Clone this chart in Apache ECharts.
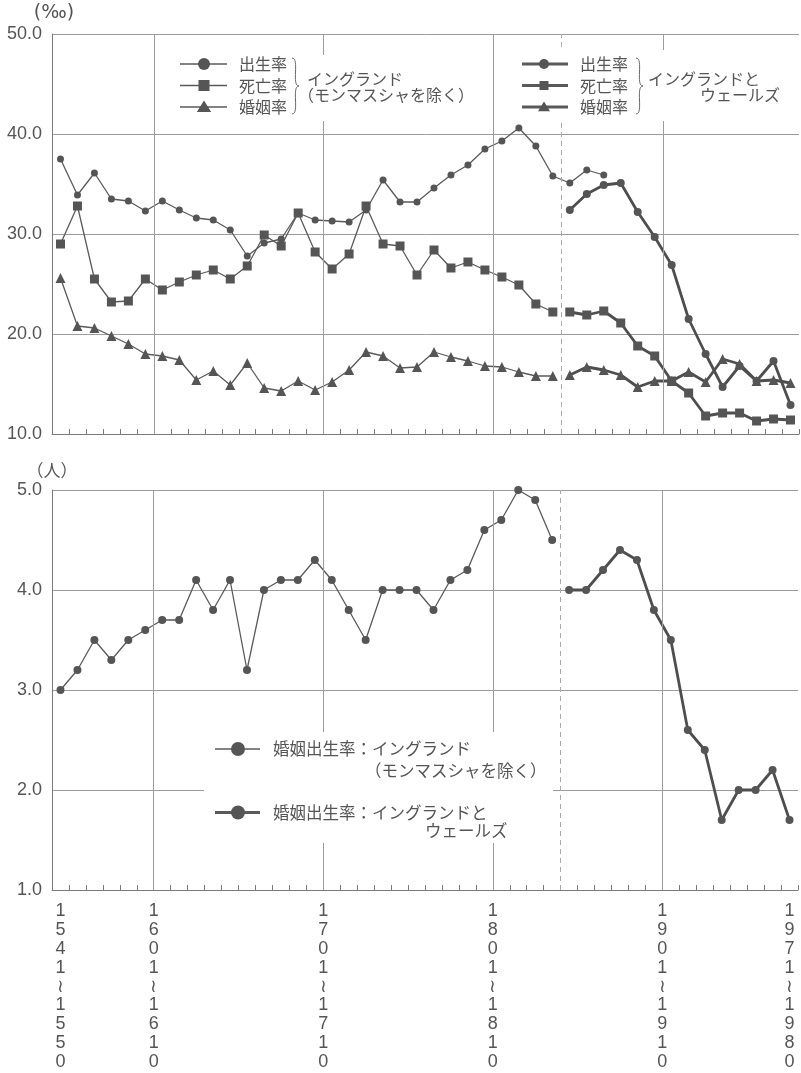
<!DOCTYPE html>
<html><head><meta charset="utf-8">
<script src="https://cdn.jsdelivr.net/npm/echarts@6/dist/echarts.min.js"></script>
<style>html,body{margin:0;padding:0;background:#fff}#c{width:801px;height:1073px}</style>
</head><body><div id="c"></div>
<script>
// ---- data ----
const decades = [1541,1551,1561,1571,1581,1591,1601,1611,1621,1631,1641,1651,1661,1671,1681,1691,1701,1711,1721,1731,1741,1751,1761,1771,1781,1791,1801,1811,1821,1831,1841,1851,1861,1871,1881,1891,1901,1911,1921,1931,1941,1951,1961,1971];
const tickLabels = ['1541~1550','1601~1610','1701~1710','1801~1810','1901~1910','1971~1980'];
const majorLines = [1601,1701,1801,1901];
const dashedLine = 1841;

const engStart = 1541;
const ewStart = 1841;

const birthEng = [37.5,33.9,36.1,33.5,33.3,32.3,33.3,32.4,31.6,31.4,30.4,27.8,29.1,29.5,32.1,31.4,31.3,31.2,32.4,35.4,33.2,33.2,34.6,35.9,36.9,38.5,39.3,40.6,38.8,35.8,35.1,36.4,35.9];
const deathEng = [29.0,32.8,25.5,23.2,23.3,25.5,24.4,25.2,25.9,26.4,25.5,26.8,29.9,28.8,32.1,28.2,26.5,28.0,32.8,29.0,28.8,25.9,28.4,26.6,27.2,26.4,25.7,24.9,23.0,22.2];
const marriageEng = [25.6,20.8,20.6,19.8,19.0,18.0,17.8,17.4,15.4,16.3,14.9,17.1,14.6,14.3,15.3,14.4,15.2,16.4,18.2,17.8,16.6,16.7,18.2,17.7,17.3,16.8,16.7,16.2,15.8,15.8];

const birthEW = [32.4,34.0,34.9,35.1,32.2,29.7,26.9,21.5,18.0,14.7,16.8,15.3,17.3,12.9];
const deathEW = [22.2,21.9,22.3,21.1,18.8,17.8,15.3,14.1,11.8,12.1,12.1,11.3,11.5,11.4];
const marriageEW = [15.9,16.7,16.4,15.9,14.7,15.3,15.3,16.2,15.2,17.5,17.0,15.3,15.4,15.1];

const fertEng = [3.0,3.2,3.5,3.3,3.5,3.6,3.7,3.7,4.1,3.8,4.1,3.2,4.0,4.1,4.1,4.3,4.1,3.8,3.5,4.0,4.0,4.0,3.8,4.1,4.2,4.6,4.7,5.0,4.9,4.5];
const fertEW = [4.0,4.0,4.2,4.4,4.3,3.8,3.5,2.6,2.4,1.7,2.0,2.0,2.2,1.7];

const topTicks = [10,20,30,40,50];
const bottomTicks = [1,2,3,4,5];

// ---- build ----
function pts(start, arr){
  const i0 = decades.indexOf(start);
  return arr.map((v,i)=>[i0 + i + 0.5, v]);
}
const labelPos = {};
tickLabels.forEach((t,k)=>{
  const start = parseInt(t.split('~')[0],10);
  const idx = decades.indexOf(start);
  const pos = (k===0 || k===tickLabels.length-1) ? idx + 0.5 : idx;
  labelPos[pos.toFixed(1)] = t;
});
function vertLabel(v){
  const t = labelPos[v.toFixed(1)];
  if(!t) return '';
  return t.replace('~','≀').split('').join('\n');
}

const GRAY = '#5a5a5a';
const MK = '#555';
const GRID = '#9c9c9c';
const AX = '#7a7a7a';
const TXT = '#555';
const JP = "'Noto Sans CJK JP', sans-serif";
const NUM = "'Liberation Sans', Arial, sans-serif";

function thin(name, data, sym, size, xi, yi){
  return {type:'line', name, data, xAxisIndex:xi, yAxisIndex:yi, symbol:sym, symbolSize:size,
    showSymbol:true, lineStyle:{color:GRAY, width:1.3}, itemStyle:{color:MK}, z:3, silent:true};
}
function thick(name, data, sym, size, xi, yi){
  return {type:'line', name, data, xAxisIndex:xi, yAxisIndex:yi, symbol:sym, symbolSize:size,
    showSymbol:true, lineStyle:{color:'#4e4e4e', width:2.8}, itemStyle:{color:MK}, z:4, silent:true};
}
function guideSeries(xi, yi){
  const d = majorLines.map(y=>({xAxis: decades.indexOf(y), lineStyle:{color:GRID, width:1, type:'solid'}}));
  d.push({xAxis: decades.indexOf(dashedLine), lineStyle:{color:'#aaa', width:1, type:[5,4]}});
  return {type:'line', data:[], xAxisIndex:xi, yAxisIndex:yi, z:1, silent:true,
    markLine:{silent:true, symbol:['none','none'], label:{show:false}, animation:false, data:d}};
}

// legend graphics
const G = [];
function marker(sym, cx, cy, s){
  if(sym==='circle') return {type:'circle', shape:{cx, cy, r:s/2}, style:{fill:MK}, z:12};
  if(sym==='rect') return {type:'rect', shape:{x:cx-s/2, y:cy-s/2, width:s, height:s}, style:{fill:MK}, z:12};
  return {type:'polygon', shape:{points:[[cx,cy-s*0.55],[cx-s*0.6,cy+s*0.42],[cx+s*0.6,cy+s*0.42]]}, style:{fill:MK}, z:12};
}
function row(x1,x2,cx,y,sym,s,lw,text,tx,fs){
  G.push({type:'line', shape:{x1, y1:y, x2, y2:y}, style:{stroke:GRAY, lineWidth:lw}, z:11});
  G.push(marker(sym,cx,y,s));
  G.push({type:'text', x:tx, y:y, style:{text, fontSize:fs, fontFamily:JP, fill:TXT, verticalAlign:'middle'}, z:12});
}
function txt(text,x,y,fs,align){
  G.push({type:'text', x, y, style:{text, fontSize:fs, fontFamily:JP, fill:TXT, verticalAlign:'middle', align:align||'left'}, z:12});
}
function brace(x, top, bottom){
  const mid = (top+bottom)/2;
  G.push({type:'bezierCurve', shape:{x1:x, y1:top, cpx1:x+8, cpy1:top, cpx2:x-1, cpy2:mid, x2:x+7, y2:mid}, style:{stroke:'#666', lineWidth:1, fill:null}, z:12});
  G.push({type:'bezierCurve', shape:{x1:x+7, y1:mid, cpx1:x-1, cpy1:mid, cpx2:x+8, cpy2:bottom, x2:x, y2:bottom}, style:{stroke:'#666', lineWidth:1, fill:null}, z:12});
}
// white boxes
G.push({type:'rect', shape:{x:172, y:55, width:308, height:66}, style:{fill:'#fff'}, z:10});
G.push({type:'rect', shape:{x:512, y:50, width:278, height:71}, style:{fill:'#fff'}, z:10});
G.push({type:'rect', shape:{x:204, y:732, width:349, height:111}, style:{fill:'#fff'}, z:10});
// legend 1
row(180,227,204,64,'circle',12,1.3,'出生率',239,16);
row(180,227,204,85.5,'rect',11,1.3,'死亡率',239,16);
row(180,227,204,107,'triangle',12,1.3,'婚姻率',239,16);
brace(292,58,114);
txt('イングランド',307,79,16);
txt('（モンマスシャを除く）',298,95,16);
// legend 2
row(522,568,544,64,'circle',10,3,'出生率',580,16);
row(522,568,544,85.5,'rect',9,3,'死亡率',580,16);
row(522,568,544,107,'triangle',10,3,'婚姻率',580,16);
brace(636,58,114);
txt('イングランドと',648,79,16);
txt('ウェールズ',780,95,16,'right');
// bottom legend
row(215,260,238,749,'circle',14,1.3,'婚姻出生率：イングランド',273,16.5);
txt('（モンマスシャを除く）',365,771,16.5);
row(215,260,238,812.5,'circle',14,3,'婚姻出生率：イングランドと',273,16.5);
txt('ウェールズ',425,831,16.5);

const chart = echarts.init(document.getElementById('c'), null, {renderer:'canvas'});
const tickAxis = (gi)=>({type:'value', gridIndex:gi, min:0, max:decades.length, interval:1, position:'bottom',
  axisLine:{show:true, lineStyle:{color:AX, width:1}}, axisTick:{show:true, inside:true, length:5, lineStyle:{color:AX}},
  axisLabel:{show:false}, splitLine:{show:false}});
chart.setOption({
  animation:false,
  backgroundColor:'#fff',
  grid:[
    {left:52, right:2, top:34, height:400},
    {left:52, right:2, top:490, height:400}
  ],
  xAxis:[
    tickAxis(0),
    tickAxis(1),
    {type:'value', gridIndex:1, min:0, max:decades.length, interval:0.5, position:'bottom',
      axisLine:{show:false}, axisTick:{show:false}, splitLine:{show:false},
      axisLabel:{show:true, margin:12, formatter:vertLabel, color:TXT, fontSize:18, fontFamily:NUM, lineHeight:18.8, verticalAlign:'top'}}
  ],
  yAxis:[
    {type:'value', gridIndex:0, min:topTicks[0], max:topTicks[topTicks.length-1], interval:topTicks[1]-topTicks[0],
      name:'(‰)', nameLocation:'end', nameGap:11, nameTextStyle:{color:TXT, fontSize:19, fontFamily:"'DejaVu Sans', sans-serif", align:'center', padding:[0,0,0,4]},
      axisLine:{show:true, lineStyle:{color:AX}}, axisTick:{show:false},
      axisLabel:{color:TXT, fontSize:18, fontFamily:NUM, margin:10, formatter:v=>v.toFixed(1)},
      splitLine:{show:true, lineStyle:{color:GRID, width:1}}},
    {type:'value', gridIndex:1, min:bottomTicks[0], max:bottomTicks[bottomTicks.length-1], interval:bottomTicks[1]-bottomTicks[0],
      name:'（人）', nameLocation:'end', nameGap:11, nameTextStyle:{color:TXT, fontSize:17, fontFamily:JP, align:'center'},
      axisLine:{show:true, lineStyle:{color:AX}}, axisTick:{show:false},
      axisLabel:{color:TXT, fontSize:18, fontFamily:NUM, margin:10, formatter:v=>v.toFixed(1)},
      splitLine:{show:true, lineStyle:{color:GRID, width:1}}}
  ],
  series:[
    guideSeries(0,0),
    guideSeries(1,1),
    thin('出生率（イングランド）', pts(engStart, birthEng), 'circle', 7, 0, 0),
    thin('死亡率（イングランド）', pts(engStart, deathEng), 'rect', 9, 0, 0),
    thin('婚姻率（イングランド）', pts(engStart, marriageEng), 'triangle', 10, 0, 0),
    thick('出生率（イングランドとウェールズ）', pts(ewStart, birthEW), 'circle', 8, 0, 0),
    thick('死亡率（イングランドとウェールズ）', pts(ewStart, deathEW), 'rect', 9, 0, 0),
    thick('婚姻率（イングランドとウェールズ）', pts(ewStart, marriageEW), 'triangle', 10, 0, 0),
    thin('婚姻出生率：イングランド（モンマスシャを除く）', pts(engStart, fertEng), 'circle', 8, 1, 1),
    thick('婚姻出生率：イングランドとウェールズ', pts(ewStart, fertEW), 'circle', 8, 1, 1)
  ],
  graphic:{elements:G}
});
</script>
</body></html>
